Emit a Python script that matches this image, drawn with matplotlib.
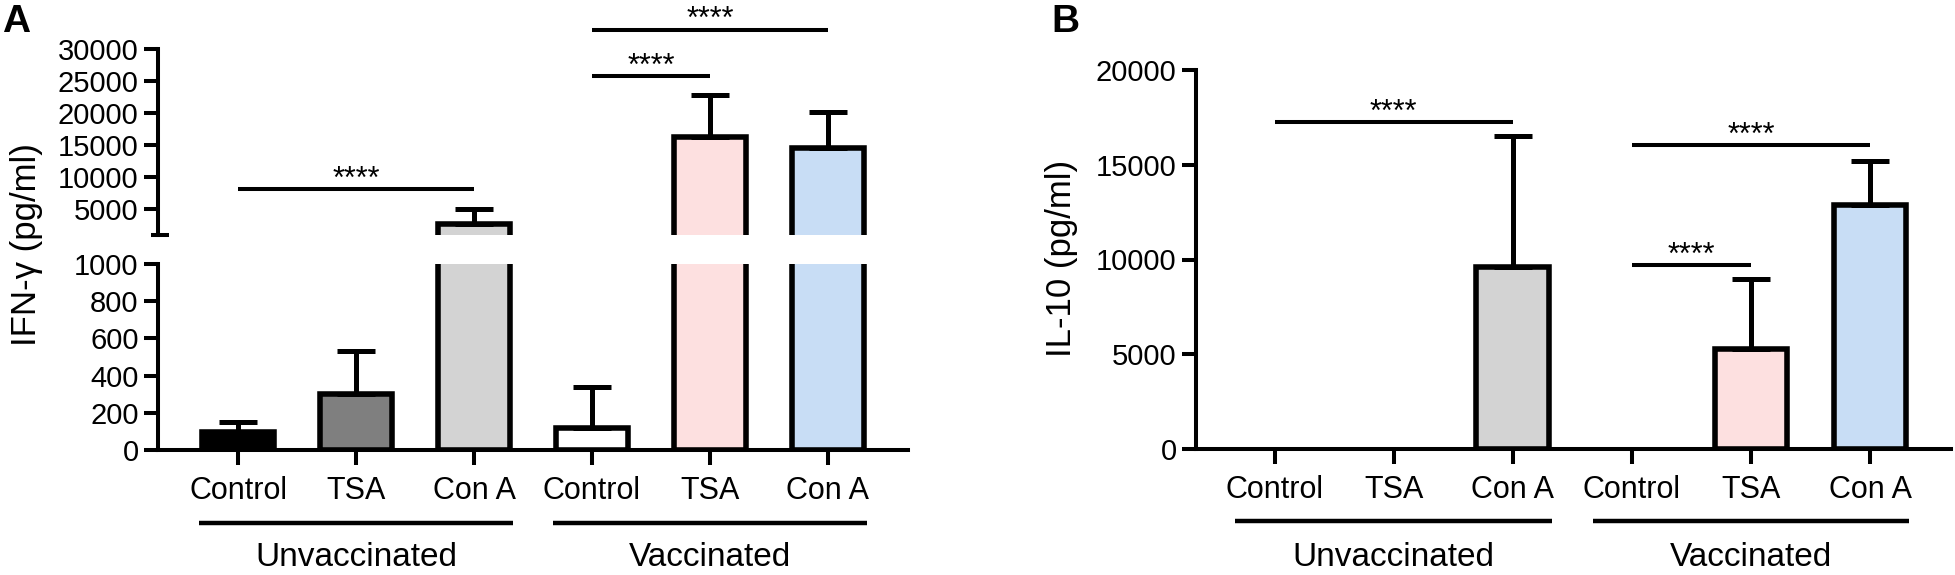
import numpy as np
import matplotlib
matplotlib.use("Agg")
import matplotlib.pyplot as plt
from matplotlib.lines import Line2D

W, H = 1955, 575

groups = ["Unvaccinated", "Vaccinated"]
treatments = ["Control", "TSA", "Con A"]
bar_colors = ["black", "#7f7f7f", "#d3d3d3", "white", "#fde0e0", "#c8ddf5"]

# IFN-gamma (pg/ml): mean and top of error bar
ifn_mean = [95, 300, 2700, 120, 16300, 14600]
ifn_top = [148, 530, 5000, 340, 22800, 20200]
ifn_sig = [(0, 2, 8200), (3, 4, 25800), (3, 5, 33000)]

# IL-10 (pg/ml)
il10_mean = [0, 0, 9600, 0, 5300, 12900]
il10_top = [0, 0, 16500, 0, 8950, 15200]
il10_sig = [(0, 2, 17250), (3, 4, 9700), (3, 5, 16050)]

plt.rcParams["font.family"] = ["Liberation Sans", "DejaVu Sans"]

LW = 2.9
EDGE = 4.0
TICK_FS = 21


def box(x0, y_top, x1, y_bot):
    return [x0 / W, 1 - y_bot / H, (x1 - x0) / W, (y_bot - y_top) / H]


def style(ax, bottom=True):
    for s in ["top", "right"]:
        ax.spines[s].set_visible(False)
    ax.spines["left"].set_linewidth(LW)
    ax.spines["bottom"].set_linewidth(LW)
    if not bottom:
        ax.spines["bottom"].set_visible(False)
        ax.tick_params(axis="x", bottom=False, labelbottom=False)
    ax.tick_params(axis="y", length=10, width=LW, pad=4, labelsize=TICK_FS)
    ax.tick_params(axis="x", length=11, width=LW, pad=8, labelsize=22)


def draw_bars(ax, mean, top):
    x = np.arange(len(mean))
    edges = [EDGE if m > 0 else 0 for m in mean]
    ax.bar(x, mean, width=0.61, color=bar_colors, edgecolor="black",
           linewidth=edges, zorder=2)
    for xi, m, t in zip(x, mean, top):
        if t > m:
            ax.errorbar(xi, m, yerr=[[0], [t - m]], fmt="none", ecolor="black",
                        elinewidth=3.6, capsize=13.8, capthick=3.6, zorder=3)


def draw_sig(ax, sig):
    for a, b, y in sig:
        ax.plot([a, b], [y, y], color="black", lw=LW, clip_on=False,
                solid_capstyle="butt")
        ax.annotate("****", xy=((a + b) / 2, y), xytext=(0, 1),
                    textcoords="offset points", ha="center", va="baseline",
                    fontsize=22, annotation_clip=False)


def draw_groups(ax, y_line, y_text):
    trans = ax.get_xaxis_transform()
    for g, name in enumerate(groups):
        x0 = g * 3 - 0.33
        x1 = g * 3 + 2 + 0.33
        ax.plot([x0, x1], [y_line, y_line], color="black", lw=3.2,
                transform=trans, clip_on=False, solid_capstyle="butt")
        ax.text(g * 3 + 1, y_text, name, transform=trans, ha="center",
                va="center", fontsize=24)


fig = plt.figure(figsize=(W / 100, H / 100), dpi=100)

# Panel A, broken axis
axA_lo = fig.add_axes(box(158, 264, 908, 450))
axA_hi = fig.add_axes(box(158, 49, 908, 235))
for ax in (axA_lo, axA_hi):
    draw_bars(ax, ifn_mean, ifn_top)
    ax.set_xlim(-0.68, 5.68)
axA_lo.set_ylim(0, 1000)
axA_lo.set_yticks(range(0, 1001, 200))
axA_hi.set_ylim(1000, 30000)
axA_hi.set_yticks(range(5000, 30001, 5000))
style(axA_lo)
style(axA_hi, bottom=False)
axA_lo.set_xticks(range(6))
axA_lo.set_xticklabels(treatments * 2)
draw_sig(axA_hi, ifn_sig)
draw_groups(axA_lo, (450 - 523) / 186, (450 - 557) / 186)
fig.add_artist(Line2D([151 / W, 169 / W], [1 - 235 / H, 1 - 235 / H],
                      color="black", lw=LW, solid_capstyle="butt"))

# Panel B
axB = fig.add_axes(box(1196, 70, 1951, 449))
draw_bars(axB, il10_mean, il10_top)
axB.set_xlim(-0.66, 5.68)
axB.set_ylim(0, 20000)
axB.set_yticks(range(0, 20001, 5000))
style(axB)
axB.set_xticks(range(6))
axB.set_xticklabels(treatments * 2)
draw_sig(axB, il10_sig)
draw_groups(axB, (449 - 521) / 379, (449 - 557) / 379)

fig.text(27 / W, 1 - 245 / H, "IFN-γ (pg/ml)", rotation=90, ha="center",
         va="center", fontsize=25)
fig.text(1061 / W, 1 - 258 / H, "IL-10 (pg/ml)", rotation=90, ha="center",
         va="center", fontsize=25)
fig.text(2 / W, 1 - 4 / H, "A", fontweight="bold", fontsize=28, ha="left", va="top")
fig.text(1051 / W, 1 - 4 / H, "B", fontweight="bold", fontsize=28, ha="left", va="top")

fig.savefig("out.png", dpi=100)
